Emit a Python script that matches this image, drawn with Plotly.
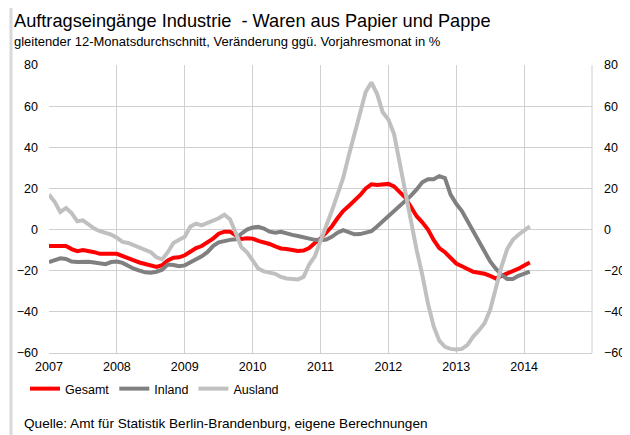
import plotly.graph_objects as go

# Monthly values Jan 2007 .. Feb 2014 (86 months)
start_year = 2007
gesamt = [
    -8, -8, -8, -8, -9.5, -10.5, -10, -10.3, -11, -11.8, -12, -11.8,
    -11.8, -13, -14.3, -15, -16, -16.6, -17.3, -18.2, -17.3, -15, -13.7, -13.5,
    -12.5, -10.5, -9, -8, -6.3, -4.4, -2, -1, -1, -3, -4.6, -4.2,
    -4.4, -5.5, -6.2, -7, -8.2, -9.2, -9.4, -9.8, -10.4, -10.2, -9, -6.5,
    -4.4, -1.5, 1.5, 5.5, 9, 11.5, 14, 16.7, 20, 22, 21.7, 22,
    22.2, 21, 18.4, 15.5, 11, 6.5, 3.5, 0, -5, -9, -11, -13.5,
    -16.5, -17.8, -19.3, -20.5, -21, -21.5, -22.5, -23.8, -22.5, -21.5, -20.5, -19,
    -17.5, -16,
]
inland = [
    -15.8, -15, -14, -14.3, -15.5, -15.8, -15.7, -15.6, -16, -16.6, -16.8, -15.8,
    -15.5, -16.2, -17.8, -19, -20, -20.8, -21, -20.5, -19.5, -17, -17.2, -17.8,
    -17.4, -16, -14.6, -13, -11, -8, -6.2, -5.4, -5, -4.7, -2, 0,
    1, 1.3, 0.5, -1, -1.5, -1.1, -2, -2.6, -3.1, -3.8, -4.6, -5,
    -5.2, -4.8, -3.5, -1.5, -0.3, -1.5, -2.3, -2.2, -1.5, -0.8, 1.5, 4,
    6.5, 8.5, 11, 13.5, 16.5, 19.5, 23, 24.5, 24.5, 26, 25, 17,
    12.5, 9, 4, -1, -6, -10.5, -15.5, -19, -22, -24, -24, -22.5,
    -21.5, -20.5,
]
ausland = [
    17, 13.5, 8.5, 10.5, 8, 4, 4.5, 2.5, 0.5, -0.8, -1.5, -2.5,
    -4, -6, -6.5, -7.5, -9, -10, -11, -13.5, -14.5, -11, -6.5, -5,
    -3.5, 1.5, 2.9, 2, 3, 4.5, 5.5, 7.2, 5, -1.5, -8.5, -11,
    -15, -19, -20.3, -21, -21.5, -23, -23.8, -24, -24.3, -23, -17, -13,
    -6, 1, 9, 17, 25, 36, 47, 58, 67, 71.5, 66, 57,
    53.5, 46.5, 32, 17.6, 3, -10, -22, -36, -47, -54, -57, -58,
    -58.3, -58, -56, -52, -49, -45.5, -39, -28, -18, -9.5, -5, -2.5,
    -0.5, 1.5,
]
series_names = ["Gesamt", "Inland", "Ausland"]
series_colors = ["#ff0000", "#808080", "#c0c0c0"]
year_ticks = [2007, 2008, 2009, 2010, 2011, 2012, 2013, 2014, 2015]
year_labels = ["2007", "2008", "2009", "2010", "2011", "2012", "2013", "2014", ""]
y_ticks = [-60, -40, -20, 0, 20, 40, 60, 80]

x = [start_year + i / 12 for i in range(len(gesamt))]

FONT = "Liberation Sans, Arial, sans-serif"
fig = go.Figure()
for name, vals, col in zip(series_names, [gesamt, inland, ausland], series_colors):
    fig.add_trace(go.Scatter(x=x, y=vals, name=name, mode="lines",
                             line=dict(color=col, width=4)))
# invisible trace for right axis
fig.add_trace(go.Scatter(x=[x[0]], y=[gesamt[0]], yaxis="y2", showlegend=False,
                         mode="markers", marker=dict(opacity=0), hoverinfo="skip"))

OFF = 8  # page body margin
W, H = 622, 427
L, R, T, B = 49 - OFF, 592 - OFF, 65 - OFF, 353 - OFF
pw, ph = R - L, B - T

def px(xs):
    return (xs - OFF - L) / pw

def py(ys):
    return (B - (ys - OFF)) / ph

grid = "#d0d0d0"
fig.update_layout(
    width=W, height=H,
    margin=dict(l=L, r=W - R, t=T, b=H - B, autoexpand=False),
    plot_bgcolor="white", paper_bgcolor="white",
    font=dict(family=FONT, size=12, color="black"),
    xaxis=dict(range=[2007, 2015], tickvals=year_ticks, ticktext=year_labels,
               showgrid=True, gridcolor=grid, gridwidth=1, zeroline=False,
               showline=True, linecolor=grid, linewidth=1, ticks="",
               tickfont=dict(size=12.5), ticklabelstandoff=2),
    yaxis=dict(range=[-60, 80], tickvals=y_ticks, showgrid=True, gridcolor=grid,
               gridwidth=1, zeroline=False, showline=False, ticks="",
               tickfont=dict(size=12.5), ticklabelstandoff=10),
    yaxis2=dict(range=[-60, 80], tickvals=y_ticks, overlaying="y", side="right",
                showgrid=False, zeroline=False, showline=False, ticks="",
                tickfont=dict(size=12.5), ticklabelstandoff=11),
    showlegend=True,
    legend=dict(orientation="h", x=px(25), y=py(389), xanchor="left", yanchor="middle",
                font=dict(size=12.5), bgcolor="rgba(0,0,0,0)", itemwidth=30),
    annotations=[
        dict(text="Auftragseingänge Industrie  - Waren aus Papier und Pappe",
             xref="paper", yref="paper", x=px(12), y=py(21), xanchor="left",
             yanchor="middle", showarrow=False, font=dict(size=18.2)),
        dict(text="gleitender 12-Monatsdurchschnitt, Veränderung ggü. Vorjahresmonat in %",
             xref="paper", yref="paper", x=px(12), y=py(42), xanchor="left",
             yanchor="middle", showarrow=False, font=dict(size=13)),
        dict(text="Quelle: Amt für Statistik Berlin-Brandenburg, eigene Berechnungen",
             xref="paper", yref="paper", x=px(22), y=py(423), xanchor="left",
             yanchor="middle", showarrow=False, font=dict(size=13.6)),
    ],
    shapes=[
        dict(type="rect", xref="paper", yref="paper", x0=px(11), x1=px(629),
             y0=py(445), y1=py(6), line=dict(color="#d9d9d9", width=3),
             fillcolor="rgba(0,0,0,0)", layer="below"),
        dict(type="line", xref="paper", yref="paper", x0=1, x1=1, y0=0, y1=1,
             line=dict(color=grid, width=1)),
    ],
)
fig.write_html("out.html")
